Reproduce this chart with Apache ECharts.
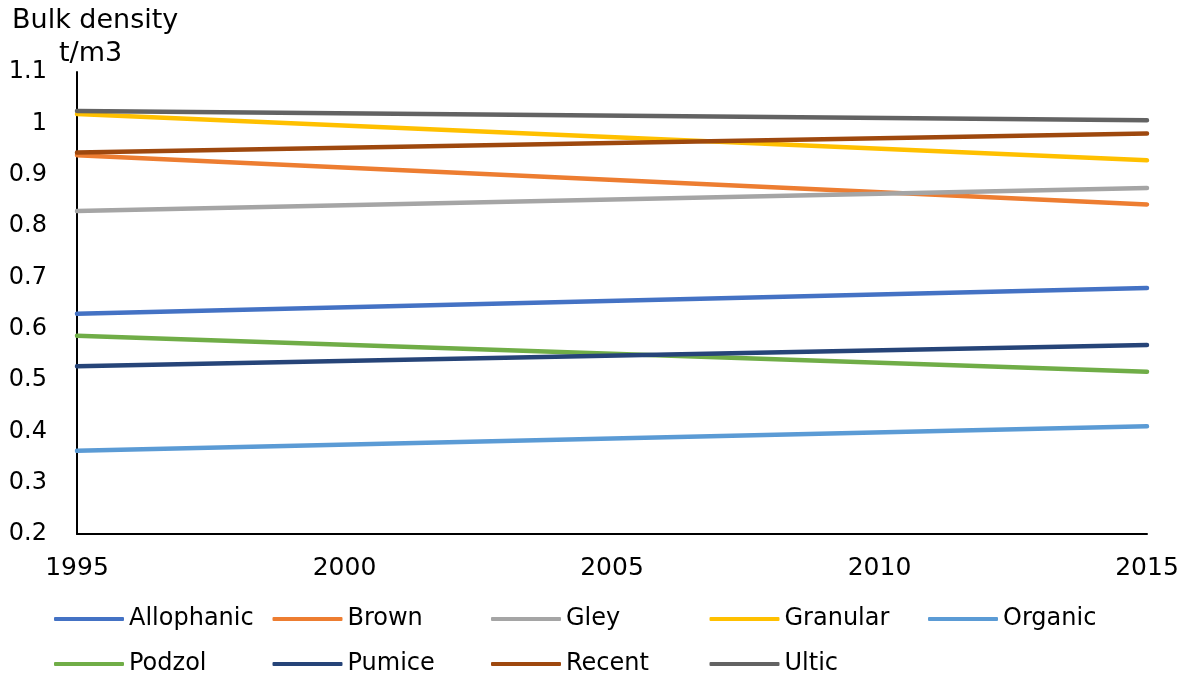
<!DOCTYPE html>
<html>
<head>
<meta charset="utf-8">
<script src="https://cdn.jsdelivr.net/npm/echarts@6/dist/echarts.min.js"></script>
<style>html,body{margin:0;padding:0;background:#fff}#c{width:1189px;height:675px}</style>
</head>
<body>
<div id="c"></div>
<script>
const years = [1995, 2015];
const seriesNames = ['Allophanic','Brown','Gley','Granular','Organic','Podzol','Pumice','Recent','Ultic'];
const allophanic = [0.629, 0.679];
const brown = [0.938, 0.842];
const gley = [0.829, 0.874];
const granular = [1.018, 0.928];
const organic = [0.362, 0.410];
const podzol = [0.586, 0.516];
const pumice = [0.527, 0.568];
const recent = [0.943, 0.980];
const ultic = [1.024, 1.006];
const yTicks = [0.2,0.3,0.4,0.5,0.6,0.7,0.8,0.9,1,1.1];
const xTicks = [1995,2000,2005,2010,2015];

const values = [allophanic, brown, gley, granular, organic, podzol, pumice, recent, ultic];
const colors = ['#4472C4','#ED7D31','#A5A5A5','#FFC000','#5B9BD5','#70AD47','#264478','#9E480E','#636363'];
const FONT = 'DejaVu Sans';

const chart = echarts.init(document.getElementById('c'), null, {renderer:'canvas'});

const series = seriesNames.map((n,i)=>({
  name:n, type:'line', symbol:'none', silent:true,
  data: years.map((y,j)=>[y, values[i][j]]),
  lineStyle:{color:colors[i], width:4.5, cap:'round'},
  itemStyle:{color:colors[i]}
}));

const legends = seriesNames.map((n,i)=>{
  const row = Math.floor(i/5), col = i%5;
  return {
    data:[n], left: 54 + col*218.5, top: 607 + row*45, padding:0,
    icon:'roundRect', itemWidth:70, itemHeight:4, itemGap:0,
    textStyle:{fontFamily:FONT, fontSize:24, color:'#000'},
    selectedMode:false
  };
});

chart.setOption({
  animation:false,
  backgroundColor:'#fff',
  graphic:[
    {type:'text', left:12, top:7, style:{text:'Bulk density', fontFamily:FONT, fontSize:27, fill:'#000'}},
    {type:'text', left:59, top:40, style:{text:'t/m3', fontFamily:FONT, fontSize:27, fill:'#000'}}
  ],
  grid:{left:77, right:42, top:72, bottom:141},
  xAxis:{type:'value', min:xTicks[0], max:xTicks[xTicks.length-1], interval:5,
    axisLine:{show:true, lineStyle:{color:'#000', width:2}},
    axisTick:{show:false}, splitLine:{show:false},
    axisLabel:{fontFamily:FONT, fontSize:25, color:'#000', margin:22,
      formatter:v=>xTicks.includes(v)?String(v):''}},
  yAxis:{type:'value', min:yTicks[0], max:yTicks[yTicks.length-1], interval:0.1,
    axisLine:{show:true, lineStyle:{color:'#000', width:2}},
    axisTick:{show:false}, splitLine:{show:false},
    axisLabel:{fontFamily:FONT, fontSize:24, color:'#000', margin:30,
      formatter:v=>String(Math.round(v*10)/10)}},
  legend:legends,
  series:series
});
</script>
</body>
</html>
